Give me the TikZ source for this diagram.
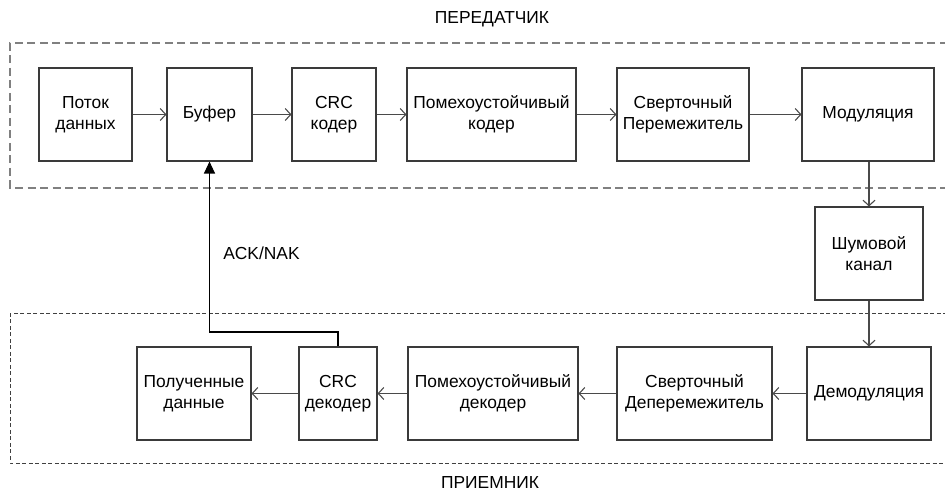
\documentclass[tikz,border=0pt]{standalone}
\usepackage{fontspec}
\setmainfont{Liberation Sans}
\usetikzlibrary{arrows.meta}
\definecolor{edge}{HTML}{3A3A3A}
\definecolor{wire}{HTML}{4A4A4A}
\definecolor{frameA}{HTML}{808080}
\definecolor{frameB}{HTML}{404040}
\tikzset{
  blk/.style={draw=edge, line width=1.1pt, rectangle, minimum height=93pt,
    inner sep=0pt, align=center, font=\fontsize{17.4}{21}\selectfont},
  flow/.style={draw=wire, line width=1.1pt, -{Straight Barb[length=5.5pt,width=12pt]}},
  back/.style={draw=black, line width=1.1pt, -{Triangle[length=12pt,width=11pt]}},
  txframe/.style={draw=frameA, line width=1.3pt, dash pattern=on 8pt off 4.5pt},
  rxframe/.style={draw=frameB, line width=1pt, dash pattern=on 4pt off 2.5pt},
  title/.style={font=\fontsize{17.4}{21}\selectfont, inner sep=0pt}
}
\begin{document}
\begin{tikzpicture}[x=1pt,y=-1pt]
\useasboundingbox (0,0) rectangle (945,494);
\clip (0,0) rectangle (945,494);
\fill[white] (0,0) rectangle (945,494);

% transmitter and receiver frames (open to the right)
\draw[txframe] (960,43) -- (10,43) -- (10,188) -- (960,188);
\draw[rxframe] (960,314) -- (10,314) -- (10,463) -- (960,463);
\node[title] (tx) at (492,19) {ПЕРЕДАТЧИК};
\node[title] (rx) at (490,483) {ПРИЕМНИК};

% transmitter chain
\node[blk, minimum width=93pt]  (src)  at (85.5,114.5)  {Поток\\данных};
\node[blk, minimum width=85pt]  (buf)  at (209.5,114.5) {Буфер};
\node[blk, minimum width=84pt]  (crc)  at (334,114.5)   {CRC\\кодер};
\node[blk, minimum width=169pt] (fec)  at (491.5,114.5) {Помехоустойчивый\\кодер};
\node[blk, minimum width=132pt] (ilv)  at (683,114.5)   {Сверточный\\Перемежитель};
\node[blk, minimum width=132pt] (mod)  at (868,114.5)   {Модуляция};

% channel
\node[blk, minimum width=108pt] (chan) at (869,253.5)   {Шумовой\\канал};

% receiver chain
\node[blk, minimum width=124pt] (dem)  at (869,393.5)   {Демодуляция};
\node[blk, minimum width=155pt] (dil)  at (694.5,393.5) {Сверточный\\Деперемежитель};
\node[blk, minimum width=170pt] (dfec) at (493,393.5)   {Помехоустойчивый\\декодер};
\node[blk, minimum width=78pt]  (dcrc) at (338,393.5)   {CRC\\декодер};
\node[blk, minimum width=114pt] (out)  at (194,393.5)   {Полученные\\данные};

\draw[flow] (src) -- (buf);
\draw[flow] (buf) -- (crc);
\draw[flow] (crc) -- (fec);
\draw[flow] (fec) -- (ilv);
\draw[flow] (ilv) -- (mod);
\draw[flow] (mod.south -| chan.north) -- (chan.north);
\draw[flow] (chan.south) -- (chan.south |- dem.north);
\draw[flow] (dem) -- (dil);
\draw[flow] (dil) -- (dfec);
\draw[flow] (dfec) -- (dcrc);
\draw[flow] (dcrc) -- (out);

% acknowledgement feedback
\coordinate (k1) at (338,332);
\draw[back] (dcrc.north) -- (k1) -| (buf.south);
\node[title] (ack) at (261.5,253) {ACK/NAK};
\end{tikzpicture}
\end{document}
